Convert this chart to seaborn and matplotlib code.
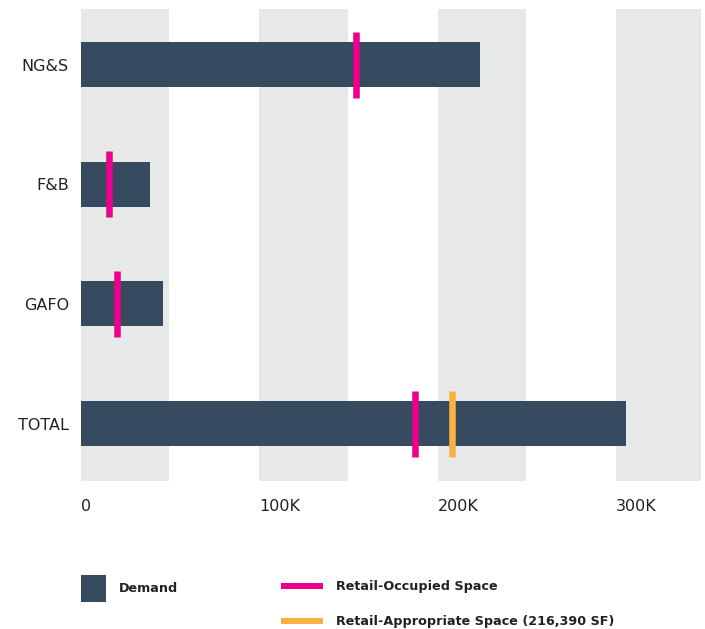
import matplotlib
matplotlib.use("Agg")
import matplotlib.pyplot as plt
import seaborn as sns
from matplotlib.patches import Patch
from matplotlib.lines import Line2D

# Data (square feet)
categories = ["NG&S", "F&B", "GAFO", "TOTAL"]
demand = [223900, 38300, 45700, 305800]
occupied = [154200, 15500, 19900, 187500]
appropriate_cat = ["TOTAL"]
appropriate = [208300]
tick_values = [0, 100000, 200000, 300000]
tick_labels = ["0", "100K", "200K", "300K"]

NAVY = "#364b60"
PINK = "#ec008c"
ORANGE = "#fbb040"
BAND = "#e7e9e9"
TEXT = "#222222"

sns.set_style("white")
plt.rcParams["font.family"] = ["DejaVu Sans"]

W, H = 705, 629
fig = plt.figure(figsize=(W / 100, H / 100), dpi=100)
ax = fig.add_axes([81.3 / W, 1 - 480.7 / H, (701 - 81.3) / W, (480.7 - 9) / H])

# alternating background bands
for t in tick_values:
    ax.axvspan(t, t + 49500, color=BAND, lw=0, zorder=0)

sns.barplot(x=demand, y=categories, orient="h", color=NAVY, width=0.376,
            saturation=1, edgecolor="none", linewidth=0, ax=ax, zorder=2)

sns.scatterplot(x=occupied, y=categories, marker="|", s=2325, linewidth=4.7,
                color=PINK, ax=ax, zorder=3)
sns.scatterplot(x=appropriate, y=appropriate_cat, marker="|", s=2325, linewidth=4.7,
                color=ORANGE, ax=ax, zorder=3)

ax.set_xlim(0, 347800)
ax.set_ylim(3.478, -0.464)
ax.set_xticks(tick_values)
ax.set_xticklabels(tick_labels)
for lbl in ax.get_xticklabels():
    lbl.set_horizontalalignment("left")
ax.tick_params(axis="x", length=0, pad=13, labelsize=11.5, labelcolor=TEXT)
ax.tick_params(axis="y", length=0, pad=9, labelsize=11.5, labelcolor=TEXT)
ax.set_xlabel("")
ax.set_ylabel("")
sns.despine(ax=ax, left=True, bottom=True)

# legends
fs = 9.2
px = fs * 100 / 72
fig.legend(handles=[Patch(color=NAVY, lw=0)], labels=["Demand"], loc="upper left",
           bbox_to_anchor=(81 / W, 1 - 575 / H), frameon=False, borderpad=0,
           borderaxespad=0, handlelength=25 / px, handleheight=2.87,
           handletextpad=13 / px, prop=dict(weight="bold", size=fs),
           labelcolor=TEXT)
fig.legend(handles=[Line2D([], [], color=PINK, lw=4.3, solid_capstyle="butt"),
                    Line2D([], [], color=ORANGE, lw=4.3, solid_capstyle="butt")],
           labels=["Retail-Occupied Space", "Retail-Appropriate Space (216,390 SF)"],
           loc="upper left", bbox_to_anchor=(281 / W, 1 - 580 / H), frameon=False,
           borderpad=0, borderaxespad=0, handlelength=42 / px,
           handletextpad=13.5 / px, labelspacing=1.75,
           prop=dict(weight="bold", size=fs), labelcolor=TEXT)

fig.savefig("out.png", dpi=100)
